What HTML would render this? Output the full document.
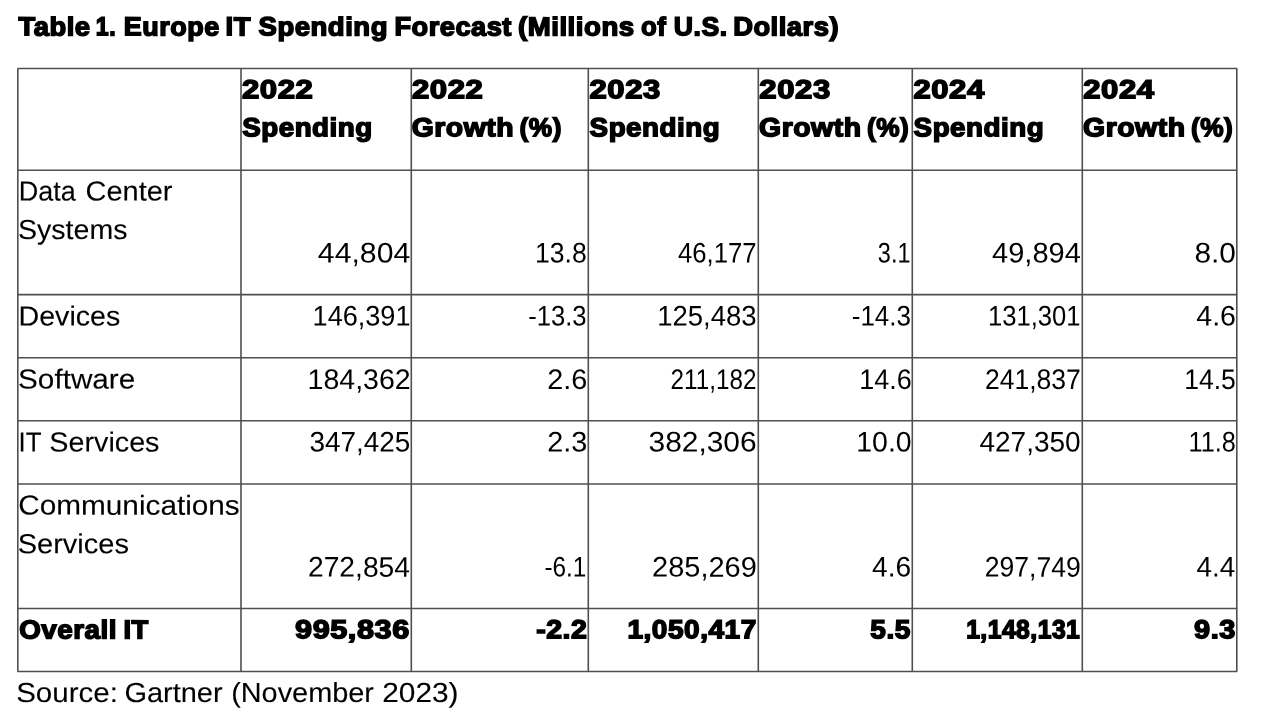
<!DOCTYPE html>
<html><head><meta charset="utf-8"><title>Table 1. Europe IT Spending Forecast</title>
<style>
html,body{margin:0;padding:0;background:#fff;}
body{width:1282px;height:720px;position:relative;overflow:hidden;font-family:"Liberation Sans",sans-serif;color:#000;}
.g{position:absolute;left:0;top:0;}
.x{position:absolute;left:0;top:0;width:1282px;height:720px;will-change:transform;}
.x i{position:absolute;left:0;top:0;white-space:nowrap;line-height:1;font-style:normal;transform-origin:0 0;}
.x i.r{font-size:27.6px;-webkit-text-stroke:0.1px #000;}
.x i.n{font-size:28.3px;}
.x i.b{font-size:26.0px;font-weight:bold;-webkit-text-stroke:1.5px #000;letter-spacing:0.5px;}
</style></head><body>
<svg class="g" width="1282" height="720" viewBox="0 0 1282 720"><g stroke="#4f4f4f" stroke-width="1.6" fill="none"><line x1="17.40" y1="68.50" x2="1237.20" y2="68.50"/><line x1="17.40" y1="170.20" x2="1237.20" y2="170.20"/><line x1="17.40" y1="294.65" x2="1237.20" y2="294.65"/><line x1="17.40" y1="357.70" x2="1237.20" y2="357.70"/><line x1="17.40" y1="420.70" x2="1237.20" y2="420.70"/><line x1="17.40" y1="484.00" x2="1237.20" y2="484.00"/><line x1="17.40" y1="608.50" x2="1237.20" y2="608.50"/><line x1="17.40" y1="671.55" x2="1237.20" y2="671.55"/><line x1="17.80" y1="68.50" x2="17.80" y2="671.55"/><line x1="241.00" y1="68.50" x2="241.00" y2="671.55"/><line x1="411.30" y1="68.50" x2="411.30" y2="671.55"/><line x1="588.30" y1="68.50" x2="588.30" y2="671.55"/><line x1="758.30" y1="68.50" x2="758.30" y2="671.55"/><line x1="912.30" y1="68.50" x2="912.30" y2="671.55"/><line x1="1082.30" y1="68.50" x2="1082.30" y2="671.55"/><line x1="1236.80" y1="68.50" x2="1236.80" y2="671.55"/></g></svg>
<div class="x">
<i class="b" style="transform:translate(18.56px,13.37px) scaleX(1.0513) rotate(0.04deg)">Table</i>
<i class="b" style="transform:translate(95.81px,13.37px) scaleX(0.8914) rotate(0.04deg)">1.</i>
<i class="b" style="transform:translate(123.87px,13.37px) scaleX(1.0346) rotate(0.04deg)">Europe</i>
<i class="b" style="transform:translate(225.64px,13.37px) scaleX(1.0555) rotate(0.04deg)">IT</i>
<i class="b" style="transform:translate(258.53px,13.37px) scaleX(1.0578) rotate(0.04deg)">Spending</i>
<i class="b" style="transform:translate(394.46px,13.37px) scaleX(1.0446) rotate(0.04deg)">Forecast</i>
<i class="b" style="transform:translate(517.98px,13.37px) scaleX(1.0618) rotate(0.04deg)">(Millions</i>
<i class="b" style="transform:translate(641.06px,13.37px) scaleX(0.9902) rotate(0.04deg)">of</i>
<i class="b" style="transform:translate(673.87px,13.37px) scaleX(1.0236) rotate(0.04deg)">U.S.</i>
<i class="b" style="transform:translate(733.15px,13.37px) scaleX(1.0503) rotate(0.04deg)">Dollars)</i>
<i class="b" style="transform:translate(242.01px,76.27px) scaleX(1.1948) rotate(0.04deg)">2022</i>
<i class="b" style="transform:translate(242.23px,114.27px) scaleX(1.0661) rotate(0.04deg)">Spending</i>
<i class="b" style="transform:translate(411.91px,76.27px) scaleX(1.1948) rotate(0.04deg)">2022</i>
<i class="b" style="transform:translate(411.65px,114.27px) scaleX(1.0912) rotate(0.04deg)">Growth</i>
<i class="b" style="transform:translate(519.61px,114.27px) scaleX(1.0087) rotate(0.04deg)">(%)</i>
<i class="b" style="transform:translate(589.41px,76.27px) scaleX(1.1947) rotate(0.04deg)">2023</i>
<i class="b" style="transform:translate(589.63px,114.27px) scaleX(1.0661) rotate(0.04deg)">Spending</i>
<i class="b" style="transform:translate(759.31px,76.27px) scaleX(1.1947) rotate(0.04deg)">2023</i>
<i class="b" style="transform:translate(759.05px,114.27px) scaleX(1.0912) rotate(0.04deg)">Growth</i>
<i class="b" style="transform:translate(867.01px,114.27px) scaleX(1.0087) rotate(0.04deg)">(%)</i>
<i class="b" style="transform:translate(913.41px,76.27px) scaleX(1.1919) rotate(0.04deg)">2024</i>
<i class="b" style="transform:translate(913.63px,114.27px) scaleX(1.0661) rotate(0.04deg)">Spending</i>
<i class="b" style="transform:translate(1083.31px,76.27px) scaleX(1.1919) rotate(0.04deg)">2024</i>
<i class="b" style="transform:translate(1083.05px,114.27px) scaleX(1.0912) rotate(0.04deg)">Growth</i>
<i class="b" style="transform:translate(1191.01px,114.27px) scaleX(1.0087) rotate(0.04deg)">(%)</i>
<i class="r" style="transform:translate(18.70px,177.50px) scaleX(0.9779) rotate(0.04deg)">Data</i>
<i class="r" style="transform:translate(85.51px,177.50px) scaleX(1.0497) rotate(0.04deg)">Center</i>
<i class="r" style="transform:translate(18.04px,216.00px) scaleX(1.0345) rotate(0.04deg)">Systems</i>
<i class="r" style="transform:translate(18.57px,302.40px) scaleX(1.0360) rotate(0.04deg)">Devices</i>
<i class="r" style="transform:translate(18.07px,365.50px) scaleX(1.0766) rotate(0.04deg)">Software</i>
<i class="r" style="transform:translate(18.54px,428.50px) scaleX(0.9386) rotate(0.04deg)">IT</i>
<i class="r" style="transform:translate(49.33px,428.50px) scaleX(1.0413) rotate(0.04deg)">Services</i>
<i class="r" style="transform:translate(18.27px,491.60px) scaleX(1.0778) rotate(0.04deg)">Communications</i>
<i class="r" style="transform:translate(17.71px,530.30px) scaleX(1.0519) rotate(0.04deg)">Services</i>
<i class="b" style="transform:translate(19.17px,616.47px) scaleX(1.0674) rotate(0.04deg)">Overall</i>
<i class="b" style="transform:translate(123.45px,616.47px) scaleX(1.0511) rotate(0.04deg)">IT</i>
<i class="r" style="transform:translate(16.18px,679.00px) scaleX(1.0696) rotate(0.04deg)">Source:</i>
<i class="r" style="transform:translate(124.43px,679.00px) scaleX(1.0499) rotate(0.04deg)">Gartner</i>
<i class="r" style="transform:translate(231.15px,679.00px) scaleX(1.0464) rotate(0.04deg)">(November</i>
<i class="r" style="transform:translate(382.23px,679.00px) scaleX(1.0808) rotate(0.04deg)">2023)</i>
<i class="n" style="transform:translate(317.89px,238.40px) scaleX(1.0673) rotate(0.04deg)">44,804</i>
<i class="n" style="transform:translate(535.07px,238.40px) scaleX(0.9376) rotate(0.04deg)">13.8</i>
<i class="n" style="transform:translate(678.00px,238.40px) scaleX(0.9086) rotate(0.04deg)">46,177</i>
<i class="n" style="transform:translate(877.86px,238.40px) scaleX(0.8282) rotate(0.04deg)">3.1</i>
<i class="n" style="transform:translate(992.12px,238.40px) scaleX(1.0249) rotate(0.04deg)">49,894</i>
<i class="n" style="transform:translate(1194.43px,238.40px) scaleX(1.0545) rotate(0.04deg)">8.0</i>
<i class="n" style="transform:translate(312.63px,301.45px) scaleX(0.9567) rotate(0.04deg)">146,391</i>
<i class="n" style="transform:translate(528.25px,301.45px) scaleX(0.9044) rotate(0.04deg)">-13.3</i>
<i class="n" style="transform:translate(657.20px,301.45px) scaleX(0.9720) rotate(0.04deg)">125,483</i>
<i class="n" style="transform:translate(851.84px,301.45px) scaleX(0.9157) rotate(0.04deg)">-14.3</i>
<i class="n" style="transform:translate(988.04px,301.45px) scaleX(0.9050) rotate(0.04deg)">131,301</i>
<i class="n" style="transform:translate(1196.33px,301.45px) scaleX(1.0087) rotate(0.04deg)">4.6</i>
<i class="n" style="transform:translate(307.62px,365.00px) scaleX(1.0069) rotate(0.04deg)">184,362</i>
<i class="n" style="transform:translate(547.35px,365.00px) scaleX(1.0162) rotate(0.04deg)">2.6</i>
<i class="n" style="transform:translate(670.58px,365.00px) scaleX(0.8567) rotate(0.04deg)">211,182</i>
<i class="n" style="transform:translate(859.24px,365.00px) scaleX(0.9531) rotate(0.04deg)">14.6</i>
<i class="n" style="transform:translate(984.96px,365.00px) scaleX(0.9378) rotate(0.04deg)">241,837</i>
<i class="n" style="transform:translate(1184.17px,365.00px) scaleX(0.9389) rotate(0.04deg)">14.5</i>
<i class="n" style="transform:translate(309.57px,427.50px) scaleX(0.9857) rotate(0.04deg)">347,425</i>
<i class="n" style="transform:translate(547.35px,427.50px) scaleX(1.0163) rotate(0.04deg)">2.3</i>
<i class="n" style="transform:translate(648.58px,427.50px) scaleX(1.0563) rotate(0.04deg)">382,306</i>
<i class="n" style="transform:translate(856.33px,427.50px) scaleX(1.0047) rotate(0.04deg)">10.0</i>
<i class="n" style="transform:translate(979.44px,427.50px) scaleX(0.9897) rotate(0.04deg)">427,350</i>
<i class="n" style="transform:translate(1188.57px,427.50px) scaleX(0.8927) rotate(0.04deg)">11.8</i>
<i class="n" style="transform:translate(307.98px,552.60px) scaleX(0.9972) rotate(0.04deg)">272,854</i>
<i class="n" style="transform:translate(544.41px,552.60px) scaleX(0.8593) rotate(0.04deg)">-6.1</i>
<i class="n" style="transform:translate(652.14px,552.60px) scaleX(1.0232) rotate(0.04deg)">285,269</i>
<i class="n" style="transform:translate(872.04px,552.60px) scaleX(0.9926) rotate(0.04deg)">4.6</i>
<i class="n" style="transform:translate(984.76px,552.60px) scaleX(0.9377) rotate(0.04deg)">297,749</i>
<i class="n" style="transform:translate(1196.55px,552.60px) scaleX(0.9830) rotate(0.04deg)">4.4</i>
<i class="b" style="transform:translate(295.03px,616.17px) scaleX(1.1776) rotate(0.04deg)">995,836</i>
<i class="b" style="transform:translate(536.19px,616.17px) scaleX(1.0957) rotate(0.04deg)">-2.2</i>
<i class="b" style="transform:translate(627.45px,616.17px) scaleX(1.0766) rotate(0.04deg)">1,050,417</i>
<i class="b" style="transform:translate(870.35px,616.17px) scaleX(1.0758) rotate(0.04deg)">5.5</i>
<i class="b" style="transform:translate(966.16px,616.17px) scaleX(0.9501) rotate(0.04deg)">1,148,131</i>
<i class="b" style="transform:translate(1194.14px,616.17px) scaleX(1.1121) rotate(0.04deg)">9.3</i>
</div></body></html>
